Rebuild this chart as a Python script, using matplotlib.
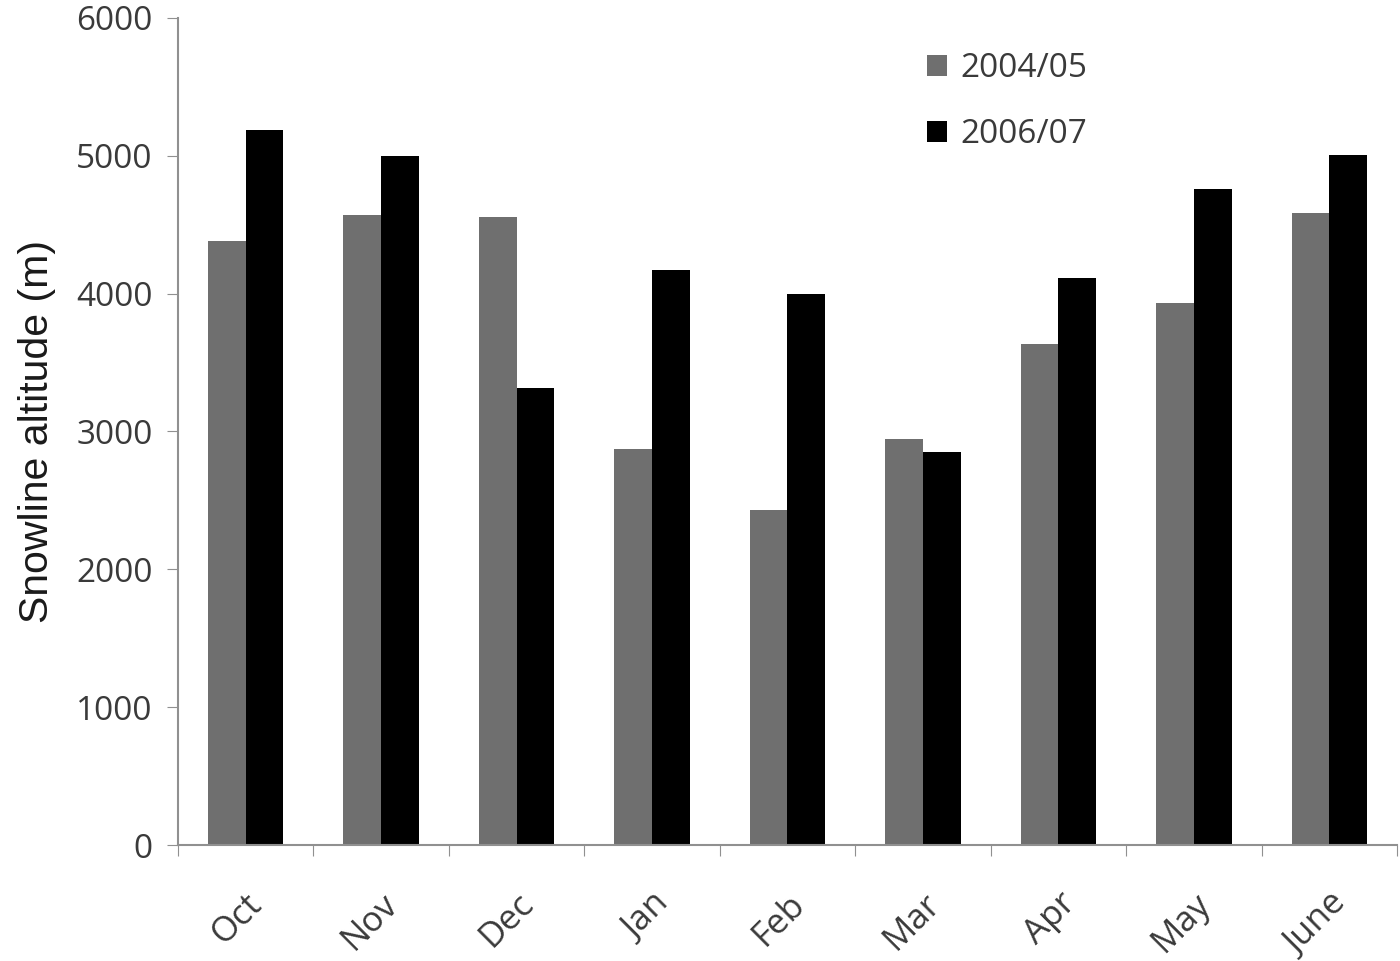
import numpy as np
import matplotlib.pyplot as plt

months = ["Oct", "Nov", "Dec", "Jan", "Feb", "Mar", "Apr", "May", "June"]
s2004 = [4380, 4570, 4555, 2875, 2430, 2945, 3635, 3930, 4585]
s2006 = [5185, 5000, 3315, 4170, 4000, 2850, 4115, 4760, 5005]

gray = "#6f6f6f"
txt = "#3a3a3a"
spine = "#909090"

fig = plt.figure(figsize=(14, 9.61), dpi=100)
ax = fig.add_axes([0.127, 0.1207, 0.871, 0.8606])

x = np.arange(len(months))
w = 0.28
ax.bar(x - w / 2, s2004, w, color=gray, label="2004/05")
ax.bar(x + w / 2, s2006, w, color="black", label="2006/07")

ax.set_xlim(-0.5, len(months) - 0.5)
ax.set_ylim(0, 6000)
ax.set_yticks(range(0, 6001, 1000))

ax.set_xticks(np.arange(-0.5, len(months), 1.0))
ax.set_xticklabels([])
ax.set_xticks(x, minor=True)
ax.set_xticklabels(months, minor=True, rotation=45, ha="right",
                   rotation_mode="anchor", fontsize=25, color=txt,
                   family="Open Sans")
ax.tick_params(axis="x", which="minor", length=0, pad=30)
ax.tick_params(axis="x", which="major", length=8, color=spine, direction="out")
ax.tick_params(axis="y", length=8, color=spine, labelsize=24, labelcolor=txt, pad=10)
for lab in ax.get_yticklabels():
    lab.set_family("Open Sans")

for s in ["top", "right"]:
    ax.spines[s].set_visible(False)
for s in ["left", "bottom"]:
    ax.spines[s].set_color(spine)
    ax.spines[s].set_linewidth(1.5)

ax.set_ylabel("Snowline altitude (m)", fontsize=29.5, family="Liberation Sans",
              color="#1a1a1a", labelpad=26)
ax.yaxis.set_label_coords(-0.1, 0.5)

ax.legend(loc="upper left", bbox_to_anchor=(0.59, 0.995), frameon=False,
          prop={"family": "Open Sans", "size": 24},
          handlelength=0.6, handleheight=0.6, handletextpad=0.4,
          labelspacing=1.0, labelcolor=txt)

fig.savefig("out.png")
